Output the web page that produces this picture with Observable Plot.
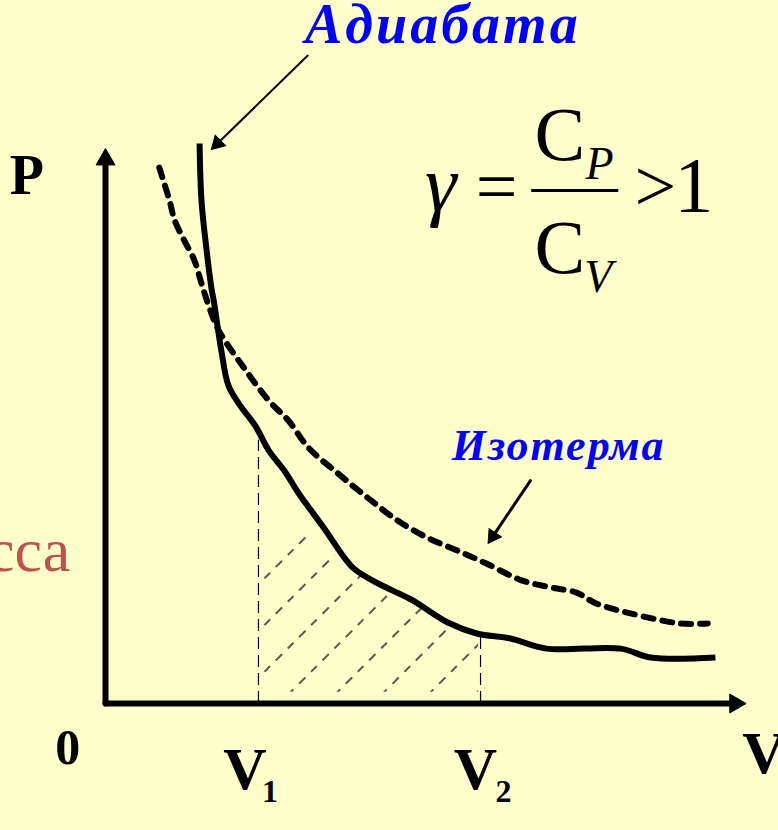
<!DOCTYPE html>
<html><head><meta charset="utf-8">
<script src="https://cdn.jsdelivr.net/npm/d3@7"></script>
<script src="https://cdn.jsdelivr.net/npm/@observablehq/plot@0.6"></script>
<style>
html,body{margin:0;padding:0;background:#FFFFCC;}
#chart{width:778px;height:830px;overflow:hidden;}
</style></head><body><div id="chart"></div>
<script>
// Adiabat (solid curve)
const adiabatV = [1.47,1.50,1.58,1.66,1.69,1.81,1.92,2.08,2.34,2.55,2.81,3.02,3.41,3.86,4.17,4.48,4.80,5.34,5.80,6.33,6.89,8.05,8.52,9.53];
const adiabatP = [10.0,8.98,8.09,7.38,7.20,6.30,5.68,5.36,4.96,4.52,4.13,3.75,3.14,2.43,2.20,2.02,1.84,1.45,1.25,1.16,0.98,0.98,0.82,0.82];
// Isotherm (dashed curve)
const isothermV = [0.84,1.00,1.08,1.23,1.39,1.50,1.61,1.77,2.16,2.55,2.86,3.17,3.63,4.09,4.56,5.03,5.50,5.95,6.50,6.97,7.36,7.66,8.20,8.98,9.41];
const isothermP = [9.57,8.98,8.63,8.27,7.91,7.50,7.11,6.66,6.00,5.41,5.05,4.57,4.11,3.68,3.27,2.96,2.73,2.50,2.20,2.07,1.98,1.79,1.61,1.43,1.43];
// Volumes V1, V2 and the height of their dashed guides
const volumes = [2.39, 5.86];
const volumeP = [4.7, 1.25];
// Hatched work region (upper boundary)
const hatchV = [2.42,2.89,3.59,4.06,4.61,5.16,5.55,5.83];
const hatchTop = [2.82,3.23,2.64,2.23,1.89,1.54,1.30,1.13];
const hatchBottom = 0.2;
// Labels
const tickLabels = ["0", "V", "V", "V"];
const tickSubs = ["1", "2"];
const axisLabel = "P";
const curveLabels = ["Адиабата", "Изотерма"];
const sideText = "сса";

const serif = "Liberation Serif";
const W = 778, H = 830;

const adiabat = adiabatV.map((v, i) => ({v, p: adiabatP[i]}));
const isotherm = isothermV.map((v, i) => ({v, p: isothermP[i]}));
const hatch = hatchV.map((v, i) => ({v, p1: hatchBottom, p2: hatchTop[i]}));
const guides = volumes.map((v, i) => ({v, p: volumeP[i]}));

// Text annotations (position in data units, styles separate from values)
const texts = [
  {t: curveLabels[0], v: 5.27, p: 11.79, size: 56, weight: "bold", style: "italic", fill: "#0000ff", anchor: "middle", ls: 3},
  {t: curveLabels[1], v: 7.08, p: 4.34, size: 44, weight: "bold", style: "italic", fill: "#0000ff", anchor: "middle", ls: 2},
  {t: axisLabel, v: -1.23, p: 9.10, size: 56, weight: "bold", style: "normal", fill: "#000", anchor: "middle"},
  {t: tickLabels[0], v: -0.59, p: -1.08, size: 50, weight: "bold", style: "normal", fill: "#000", anchor: "middle"},
  {t: tickLabels[1], v: 2.18, p: -1.52, size: 60, weight: "bold", style: "normal", fill: "#000", anchor: "middle"},
  {t: tickSubs[0], v: 2.57, p: -1.76, size: 32, weight: "bold", style: "normal", fill: "#000", anchor: "middle"},
  {t: tickLabels[2], v: 5.78, p: -1.52, size: 60, weight: "bold", style: "normal", fill: "#000", anchor: "middle"},
  {t: tickSubs[1], v: 6.22, p: -1.76, size: 32, weight: "bold", style: "normal", fill: "#000", anchor: "middle"},
  {t: tickLabels[3], v: 9.95, p: -1.24, size: 60, weight: "bold", style: "normal", fill: "#000", anchor: "start"},
  {t: sideText, v: -0.55, p: 2.375, size: 62, weight: "normal", style: "normal", fill: "#C0504D", anchor: "end"},
  // formula γ = C_P / C_V > 1
  {t: "γ", v: 5.24, p: 8.80, size: 80, weight: "normal", style: "italic", fill: "#000", anchor: "middle"},
  {t: "=", v: 6.11, p: 8.80, size: 74, weight: "normal", style: "normal", fill: "#000", anchor: "middle"},
  {t: "C", v: 7.10, p: 9.70, size: 76, weight: "normal", style: "normal", fill: "#000", anchor: "middle"},
  {t: "P", v: 7.50, p: 9.36, size: 46, weight: "normal", style: "italic", fill: "#000", anchor: "start"},
  {t: "C", v: 7.10, p: 7.68, size: 76, weight: "normal", style: "normal", fill: "#000", anchor: "middle"},
  {t: "V", v: 7.48, p: 7.34, size: 46, weight: "normal", style: "italic", fill: "#000", anchor: "start"},
  {t: ">", v: 8.59, p: 8.80, size: 74, weight: "normal", style: "normal", fill: "#000", anchor: "middle"},
  {t: "1", v: 9.19, p: 8.80, size: 78, weight: "normal", style: "normal", fill: "#000", anchor: "middle"}
];
const fractionBar = [{v1: 6.66, v2: 8.02, p: 9.16}];

// Arrows: axes + pointers
const arrows = [
  {v1: 0, p1: 0, v2: 0, p2: 9.875, w: 6, r: 7, rot: 0, dx: 0, dy: 9},
  {v1: 0, p1: 0, v2: 9.98, p2: 0, w: 6, r: 7, rot: 90, dx: -9, dy: 0},
  {v1: 3.16, p1: 11.57, v2: 1.67, p2: 9.91, w: 2, r: 5.5, rot: 225, dx: 5, dy: -5},
  {v1: 6.64, p1: 3.98, v2: 5.99, p2: 2.88, w: 3, r: 5.5, rot: 214, dx: 4, dy: -6}
];

const textMarks = texts.map(d => Plot.text([d], {
  x: "v", y: "p", text: "t",
  fontSize: d.size, fontFamily: serif, fontWeight: d.weight, fontStyle: d.style,
  fill: d.fill, textAnchor: d.anchor, lineAnchor: "bottom"
}));

const arrowMarks = arrows.flatMap(d => [
  Plot.arrow([d], {x1: "v1", y1: "p1", x2: "v2", y2: "p2", stroke: "#000", strokeWidth: d.w, headLength: 0, insetEnd: d.r * 1.3}),
  Plot.dot([d], {x: "v2", y: "p2", symbol: "triangle", r: d.r, fill: "#000", stroke: "#000", strokeWidth: 1, rotate: d.rot, dx: d.dx, dy: d.dy})
]);

const plot = Plot.plot({
  width: W, height: H,
  margin: 0,
  style: {background: "#FFFFCC", overflow: "visible"},
  x: {domain: [0, 10], range: [105, 745], axis: null},
  y: {domain: [0, 10], range: [703, 143], axis: null},
  marks: [
    Plot.areaY(hatch, {x: "v", y1: "p1", y2: "p2", fill: "url(#hatch)", curve: "linear"}),
    Plot.ruleX(guides, {x: "v", y1: 0, y2: "p", stroke: "#000", strokeWidth: 1.2, strokeDasharray: "12 6"}),
    Plot.line(isotherm, {x: "v", y: "p", stroke: "#000", strokeWidth: 6, strokeDasharray: "10 9", curve: "catmull-rom"}),
    Plot.line(adiabat, {x: "v", y: "p", stroke: "#000", strokeWidth: 6, strokeLinejoin: "round", strokeLinecap: "butt", curve: "catmull-rom"}),
    Plot.ruleY(fractionBar, {x1: "v1", x2: "v2", y: "p", stroke: "#000", strokeWidth: 3}),
    ...arrowMarks,
    ...textMarks
  ]
});

// hatch pattern definition
const svg = d3.select(plot);
const defs = svg.insert("defs", ":first-child");
const pat = defs.append("pattern").attr("id", "hatch").attr("patternUnits", "userSpaceOnUse")
  .attr("width", 33).attr("height", 33).attr("patternTransform", "rotate(45)");
pat.append("line").attr("x1", 2).attr("y1", 0).attr("x2", 2).attr("y2", 33)
  .attr("stroke", "#000").attr("stroke-width", 1.3).attr("stroke-dasharray", "8 8");

// letter spacing for the curve labels
texts.filter(d => d.ls).forEach(d => {
  svg.selectAll("text").filter(function() { return this.textContent === d.t; })
    .attr("letter-spacing", d.ls);
});

document.getElementById("chart").appendChild(plot);
</script></body></html>
